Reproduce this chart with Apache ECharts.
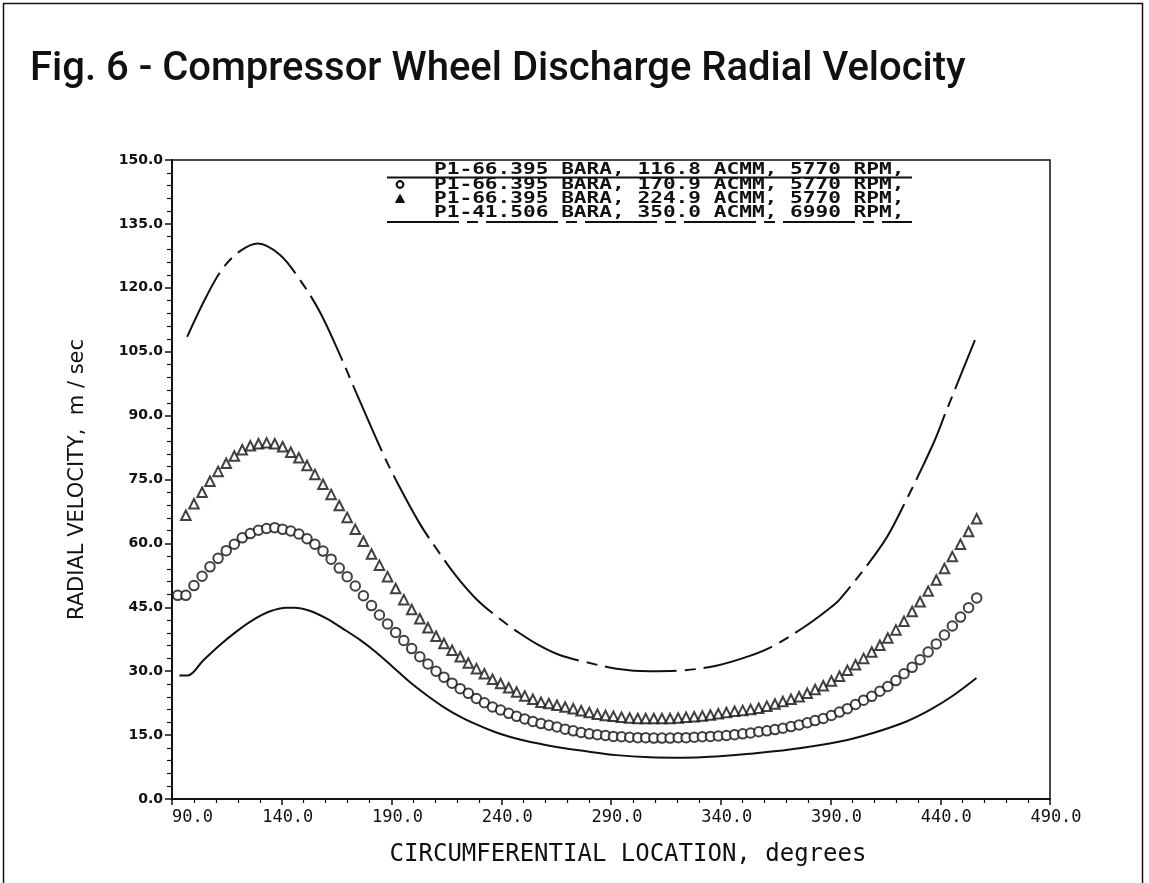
<!DOCTYPE html>
<html>
<head>
<meta charset="utf-8">
<script src="https://cdn.jsdelivr.net/npm/echarts@6/dist/echarts.min.js"></script>
<style>
  html, body { margin: 0; padding: 0; background: #fff; }
  #chart { width: 1149px; height: 883px; }
</style>
</head>
<body>
<div id="chart"></div>
<script>
// Figure title and series labels
const TITLE = 'Fig. 6 - Compressor Wheel Discharge Radial Velocity';
const SERIES_LABELS = [
  'P1-66.395 BARA, 116.8 ACMM, 5770 RPM,',
  'P1-66.395 BARA, 170.9 ACMM, 5770 RPM,',
  'P1-66.395 BARA, 224.9 ACMM, 5770 RPM,',
  'P1-41.506 BARA, 350.0 ACMM, 6990 RPM,'
];

// Circumferential stations (degrees) where the point series are sampled
const ANGLES = [
  92.6, 96.3, 100.0, 103.7, 107.3, 111.0, 114.7, 118.4, 122.0, 125.7,
  129.4, 133.1, 136.8, 140.4, 144.1, 147.8, 151.5, 155.1, 158.8, 162.5,
  166.2, 169.8, 173.5, 177.2, 180.9, 184.5, 188.2, 191.9, 195.6, 199.2,
  202.9, 206.6, 210.3, 213.9, 217.6, 221.3, 225.0, 228.7, 232.3, 236.0,
  239.7, 243.4, 247.0, 250.7, 254.4, 258.1, 261.7, 265.4, 269.1, 272.8,
  276.4, 280.1, 283.8, 287.5, 291.1, 294.8, 298.5, 302.2, 305.8, 309.5,
  313.2, 316.9, 320.6, 324.2, 327.9, 331.6, 335.3, 338.9, 342.6, 346.3,
  350.0, 353.6, 357.3, 361.0, 364.7, 368.3, 372.0, 375.7, 379.4, 383.0,
  386.7, 390.4, 394.1, 397.7, 401.4, 405.1, 408.8, 412.5, 416.1, 419.8,
  423.5, 427.2, 430.8, 434.5, 438.2, 441.9, 445.5, 449.2, 452.9, 456.6
];

// 170.9 ACMM radial velocity (m/s), one value per station
const CIRCLE_V = [
  47.8, 47.8, 50.1, 52.3, 54.5, 56.5, 58.3, 59.8, 61.3, 62.3,
  63.1, 63.5, 63.7, 63.3, 62.9, 62.2, 61.1, 59.8, 58.2, 56.3,
  54.2, 52.2, 50.0, 47.7, 45.4, 43.2, 41.1, 39.1, 37.2, 35.3,
  33.4, 31.7, 30.0, 28.6, 27.2, 25.9, 24.8, 23.6, 22.6, 21.6,
  20.9, 20.1, 19.4, 18.8, 18.2, 17.7, 17.3, 16.9, 16.4, 16.0,
  15.6, 15.3, 15.1, 14.9, 14.7, 14.6, 14.5, 14.4, 14.4, 14.3,
  14.3, 14.3, 14.4, 14.4, 14.5, 14.6, 14.7, 14.8, 14.9, 15.1,
  15.3, 15.5, 15.8, 16.0, 16.3, 16.6, 17.0, 17.4, 17.9, 18.4,
  18.9, 19.6, 20.4, 21.2, 22.2, 23.2, 24.1, 25.3, 26.4, 27.8,
  29.4, 30.9, 32.7, 34.5, 36.4, 38.5, 40.6, 42.7, 44.9, 47.2
];

// 224.9 ACMM radial velocity (m/s), starting at the second station
const TRIANGLE_V = [
  66.6, 69.3, 72.0, 74.6, 76.9, 78.8, 80.5, 82.0, 82.9,
  83.4, 83.6, 83.4, 82.7, 81.4, 80.1, 78.3, 76.2, 73.9, 71.5,
  68.9, 66.1, 63.3, 60.5, 57.5, 54.9, 52.2, 49.4, 46.8, 44.5,
  42.3, 40.2, 38.2, 36.5, 34.9, 33.4, 31.9, 30.6, 29.4, 28.1,
  27.1, 26.1, 25.1, 24.2, 23.4, 22.7, 22.4, 22.0, 21.6, 21.2,
  20.7, 20.3, 19.9, 19.6, 19.4, 19.2, 19.0, 18.9, 18.9, 18.9,
  18.9, 18.9, 19.0, 19.2, 19.3, 19.5, 19.7, 20.0, 20.3, 20.6,
  20.8, 21.0, 21.3, 21.8, 22.3, 22.9, 23.4, 24.0, 24.8, 25.7,
  26.6, 27.7, 28.8, 30.2, 31.5, 33.0, 34.5, 36.1, 37.8, 39.7,
  41.7, 44.0, 46.3, 48.8, 51.4, 54.1, 56.9, 59.8, 62.8, 65.8
];

// 116.8 ACMM curve (solid line)
const SOLID_DEG = [
  93.4, 97.2, 104.0, 111.7, 119.3, 126.8, 134.4, 142.1, 145.8, 152.7,
  160.3, 167.8, 175.5, 183.1, 190.6, 198.2, 205.9, 213.4, 221.0, 228.7,
  236.2, 243.8, 251.4, 259.0, 266.6, 277.2, 292.5, 307.6, 322.8, 338.0,
  353.2, 371.4, 394.3, 409.4, 424.6, 435.3, 445.9, 456.5
];
const SOLID_V = [
  29.0, 29.0, 32.4, 36.1, 39.3, 42.0, 44.0, 44.9, 44.9, 44.2,
  42.4, 40.0, 37.4, 34.4, 31.0, 27.5, 24.4, 21.7, 19.4, 17.5,
  15.9, 14.6, 13.6, 12.8, 12.1, 11.3, 10.3, 9.8, 9.7, 10.0,
  10.6, 11.6, 13.5, 15.5, 18.2, 20.9, 24.3, 28.4
];

// 350.0 ACMM curve (long-short dashed line)
const DASH_DEG = [
  96.9, 105.6, 113.2, 121.0, 129.1, 139.0, 148.1, 157.2, 166.3, 173.9,
  186.1, 192.9, 202.8, 210.4, 219.5, 228.7, 239.3, 248.4, 257.5, 266.6,
  277.2, 292.5, 307.6, 322.8, 338.0, 353.2, 363.8, 377.5, 388.2, 394.3,
  413.9, 423.0, 436.8, 442.9, 455.8
];
const DASH_V = [
  108.5, 117.9, 124.6, 128.6, 130.4, 127.8, 122.0, 114.5, 104.5, 95.4,
  81.1, 74.0, 64.7, 58.8, 52.3, 46.9, 42.3, 38.9, 36.0, 33.8,
  32.3, 30.6, 30.0, 30.2, 31.3, 33.6, 35.9, 40.2, 44.2, 46.9,
  60.0, 68.6, 83.4, 91.3, 107.7
];

const INK = '#111';
const DASH_PATTERN = [72, 8, 11, 8];
const zip = (xs, ys) => xs.map((x, i) => [x, ys[i]]);

const chart = echarts.init(document.getElementById('chart'), null, { renderer: 'canvas' });

// Legend block: wide plotter-style lettering with line/marker samples
const LEG_X = 434, LEG_LINE_X0 = 387, LEG_LINE_X1 = 912;
const LEG_ROWS_Y = [170, 184.5, 198.5, 212.5];
const legendFont = 'bold 16px "DejaVu Sans Mono"';
const legendGraphics = [];
SERIES_LABELS.forEach((t, k) => {
  legendGraphics.push({
    type: 'text', silent: true, z: 10,
    x: LEG_X, y: LEG_ROWS_Y[k], scaleX: 1.32,
    style: { text: t, x: 0, y: 0, font: legendFont, fill: INK, align: 'left', verticalAlign: 'middle' }
  });
});
legendGraphics.push(
  { type: 'line', silent: true, z: 9, shape: { x1: LEG_LINE_X0, y1: 177.5, x2: LEG_LINE_X1, y2: 177.5 },
    style: { stroke: INK, lineWidth: 2.2 } },
  { type: 'circle', silent: true, z: 9, shape: { cx: 400, cy: 184.5, r: 3.3 },
    style: { fill: '#fff', stroke: INK, lineWidth: 2.2 } },
  { type: 'polygon', silent: true, z: 9, shape: { points: [[400, 194.5], [395.5, 202.5], [404.5, 202.5]] },
    style: { fill: INK, stroke: INK, lineWidth: 1 } },
  { type: 'line', silent: true, z: 9, shape: { x1: LEG_LINE_X0, y1: 222, x2: LEG_LINE_X1, y2: 222 },
    style: { stroke: INK, lineWidth: 2.2, lineDash: DASH_PATTERN } }
);

const option = {
  backgroundColor: '#fff',
  animation: false,
  grid: {
    left: 172, top: 160, width: 878, height: 639,
    show: true, borderColor: INK, borderWidth: 1.5, backgroundColor: 'transparent'
  },
  xAxis: [
    // data axis (degrees)
    { type: 'value', min: 90, max: 490, show: false },
    // tick/label axis, offset so that ticks fall on 90, 140, ... 490
    {
      type: 'value', min: 0, max: 400, interval: 50, position: 'bottom',
      axisLine: { show: true, onZero: false, lineStyle: { color: INK, width: 2 } },
      axisTick: { show: true, length: 6, lineStyle: { color: INK, width: 1.5 } },
      minorTick: { show: true, splitNumber: 5, length: 4, lineStyle: { color: INK, width: 1.2 } },
      splitLine: { show: false },
      axisLabel: {
        formatter: v => v === 0 ? (v + 90).toFixed(1) : '{s|' + (v + 90).toFixed(1) + '}',
        rich: { s: { padding: [0, 0, 0, 12], fontFamily: 'DejaVu Sans Mono', fontSize: 17, color: INK } },
        alignMinLabel: 'left',
        fontFamily: 'DejaVu Sans Mono', fontSize: 17, color: INK, margin: 10
      },
      name: 'CIRCUMFERENTIAL LOCATION, degrees',
      nameLocation: 'middle', nameGap: 44,
      nameTextStyle: { fontFamily: 'DejaVu Sans Mono', fontSize: 24, color: INK, padding: [0, 0, 0, 34] }
    }
  ],
  yAxis: {
    type: 'value', min: 0, max: 150, interval: 15,
    axisLine: { show: true, lineStyle: { color: INK, width: 2 } },
    axisTick: { show: true, length: 7, lineStyle: { color: INK, width: 1.5 } },
    minorTick: { show: true, splitNumber: 5, length: 5, lineStyle: { color: INK, width: 1.2 } },
    splitLine: { show: false },
    axisLabel: {
      formatter: v => v.toFixed(1),
      fontFamily: 'DejaVu Sans', fontWeight: 'bold', fontSize: 14, color: INK, margin: 9
    },
    name: 'RADIAL VELOCITY,  m / sec',
    nameLocation: 'middle', nameGap: 84,
    nameTextStyle: { fontFamily: 'DejaVu Sans', fontSize: 21, color: INK }
  },
  graphic: [
    { type: 'rect', silent: true, shape: { x: 3.5, y: 3.5, width: 1139, height: 920 },
      style: { fill: null, stroke: INK, lineWidth: 1.5 } },
    { type: 'text', silent: true,
      style: { text: TITLE, x: 30, y: 70, font: '500 40px Roboto', fill: INK, verticalAlign: 'middle' } }
  ].concat(legendGraphics),
  series: [
    {
      name: SERIES_LABELS[0], type: 'line', xAxisIndex: 0,
      data: zip(SOLID_DEG, SOLID_V), smooth: 0.35, showSymbol: false,
      lineStyle: { color: INK, width: 2 }
    },
    {
      name: SERIES_LABELS[1], type: 'scatter', xAxisIndex: 0,
      data: zip(ANGLES, CIRCLE_V), symbol: 'circle', symbolSize: 9.5,
      itemStyle: { color: '#fff', borderColor: INK, borderWidth: 2 }
    },
    {
      name: SERIES_LABELS[2], type: 'scatter', xAxisIndex: 0,
      data: zip(ANGLES.slice(1), TRIANGLE_V), symbol: 'triangle', symbolSize: [9.5, 9.5],
      itemStyle: { color: '#fff', borderColor: INK, borderWidth: 2 }
    },
    {
      name: SERIES_LABELS[3], type: 'line', xAxisIndex: 0,
      data: zip(DASH_DEG, DASH_V), smooth: 0.35, showSymbol: false,
      lineStyle: { color: INK, width: 2, type: DASH_PATTERN }
    }
  ]
};

chart.setOption(option);
</script>
</body>
</html>
